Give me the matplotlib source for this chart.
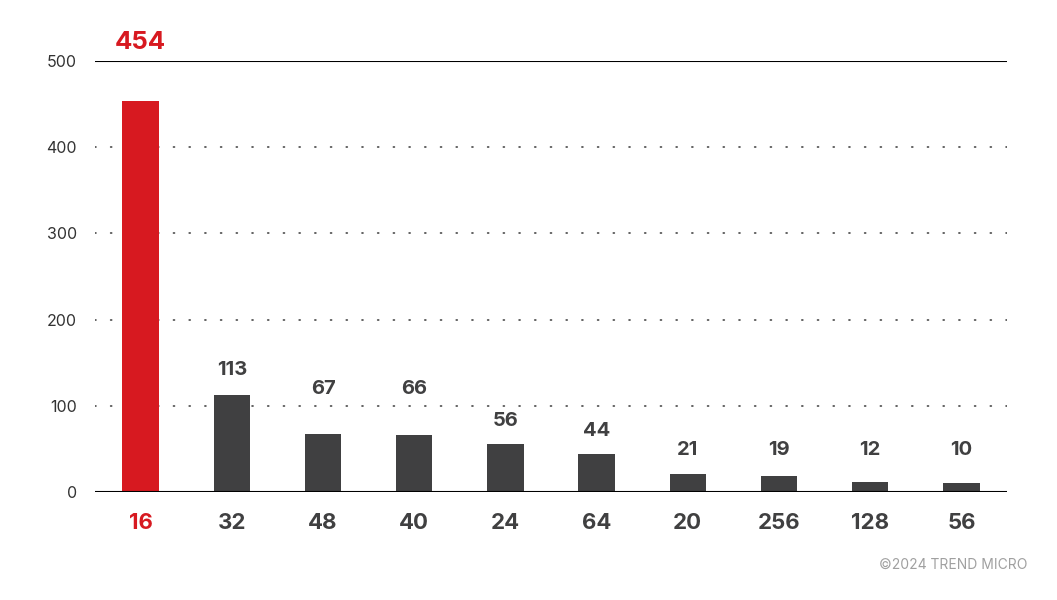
import matplotlib
matplotlib.use("Agg")
import matplotlib.pyplot as plt

categories = ["16", "32", "48", "40", "24", "64", "20", "256", "128", "56"]
values = [454, 113, 67, 66, 56, 44, 21, 19, 12, 10]
label_y = [521, 141, 119, 119, 82, 71, 49, 49, 49, 49]
yticks = [0, 100, 200, 300, 400, 500]

RED = "#D71920"
DARK = "#404041"
plt.rcParams['font.family'] = ['Inter', 'DejaVu Sans']

fig = plt.figure(figsize=(10.57, 6), dpi=100)
ax = fig.add_axes([95/1057, 108/600, 912/1057, 431/600])

x = list(range(len(categories)))
colors = [RED if i == 0 else DARK for i in x]
ax.bar(x, values, width=0.4, color=colors, zorder=3)

ax.set_xlim(-0.5, 9.5)
ax.set_ylim(0, 500)

for y in yticks[1:-1]:
    ax.axhline(y, color="#555555", lw=1.3, linestyle=(0, (0.5, 8.2)),
               dash_capstyle="round", zorder=1)
ax.axhline(500, color="black", lw=1.5, zorder=2)
ax.axhline(0, color="black", lw=1.5, zorder=4)

for s in ax.spines.values():
    s.set_visible(False)

ax.set_yticks(yticks)
ax.set_yticklabels([str(t) for t in yticks], fontsize=11.5, color="#333333")
ax.tick_params(axis='y', length=0, pad=13)
ax.set_xticks(x)
ax.set_xticklabels(categories, fontsize=16, fontweight='bold')
ax.tick_params(axis='x', length=0, pad=15)
for i, lab in enumerate(ax.get_xticklabels()):
    lab.set_color(RED if i == 0 else DARK)

for i, (v, ly) in enumerate(zip(values, label_y)):
    if i == 0:
        ax.text(i, ly, str(v), ha='center', va='center', fontsize=18.5,
                fontweight='bold', color=RED, clip_on=False)
    else:
        ax.text(i, ly, str(v), ha='center', va='center', fontsize=14.5,
                fontweight='bold', color=DARK, clip_on=False)

fig.text(1027/1057, 1 - 565/600, "©2024 TREND MICRO", ha='right', va='center',
         fontsize=10, color="#A0A0A0")

fig.savefig("out.png", dpi=100)
